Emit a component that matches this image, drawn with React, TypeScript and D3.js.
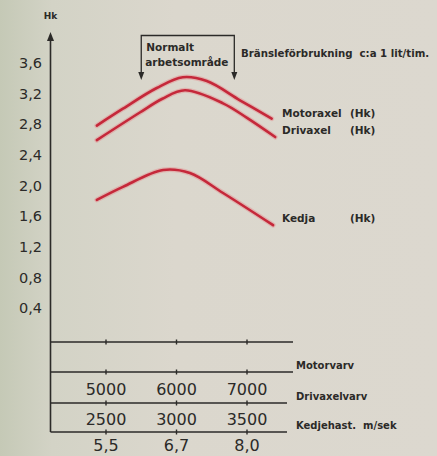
import React, { useRef, useEffect } from 'react';
import * as d3 from 'd3';

// curve values: [motor rpm, Hk]
const motoraxel: [number, number][] = [
  [4870, 2.78], [5240, 3.0], [5720, 3.27], [6090, 3.41], [6430, 3.36], [6900, 3.11], [7350, 2.87],
];
const drivaxel: [number, number][] = [
  [4870, 2.59], [5480, 2.95], [5800, 3.13], [6120, 3.24], [6660, 3.07], [7000, 2.88], [7400, 2.63],
];
const kedja: [number, number][] = [
  [4870, 1.81], [5240, 1.98], [5810, 2.2], [6190, 2.16], [6660, 1.9], [7370, 1.48],
];

const hkTicks = [0.4, 0.8, 1.2, 1.6, 2.0, 2.4, 2.8, 3.2, 3.6];
const motorTicks = [5000, 6000, 7000];
const driveLabels = ['2500', '3000', '3500'];
const chainLabels = ['5,5', '6,7', '8,0'];
const normalRange = [5500, 6820];

const seriesLabels = [
  { name: 'Motoraxel', unit: '(Hk)', data: motoraxel },
  { name: 'Drivaxel', unit: '(Hk)', data: drivaxel },
  { name: 'Kedja', unit: '(Hk)', data: kedja },
];

const W = 437;
const H = 456;
const FONT = '"DejaVu Sans", "Open Sans", sans-serif';
const INK = '#2b2a28';

const App = () => {
  const svgRef = useRef<SVGSVGElement>(null);

  useEffect(() => {
    if (!svgRef.current) return;
    const svg = d3.select(svgRef.current);
    svg.selectAll('*').remove();

    const x = d3.scaleLinear().domain([5000, 7000]).range([106, 247]);
    const y = d3.scaleLinear().domain([0, 3.6]).range([338.6, 62.7]);
    const axisX = 50.5;

    // paper background
    const defs = svg.append('defs');
    const grad = defs.append('linearGradient').attr('id', 'paper').attr('x1', 0).attr('x2', 1);
    grad.append('stop').attr('offset', '0%').attr('stop-color', '#c5c9b6');
    grad.append('stop').attr('offset', '12%').attr('stop-color', '#d3d3c6');
    grad.append('stop').attr('offset', '40%').attr('stop-color', '#dbd7cd');
    grad.append('stop').attr('offset', '100%').attr('stop-color', '#dcd8cf');
    svg.append('rect').attr('width', W).attr('height', H).attr('fill', 'url(#paper)');

    // y axis with arrow
    svg.append('line')
      .attr('x1', axisX).attr('x2', axisX).attr('y1', 38).attr('y2', 432)
      .attr('stroke', INK).attr('stroke-width', 1.6);
    svg.append('path')
      .attr('d', `M${axisX},32 L${axisX - 3.5},41 L${axisX + 3.5},41 Z`)
      .attr('fill', INK);
    svg.append('text')
      .attr('x', axisX).attr('y', 19)
      .attr('text-anchor', 'middle')
      .attr('font-family', FONT).attr('font-size', 9).attr('font-weight', 'bold')
      .attr('fill', INK).text('Hk');

    svg.append('g').selectAll('text').data(hkTicks).enter().append('text')
      .attr('x', 42).attr('y', d => y(d))
      .attr('dy', '0.36em')
      .attr('text-anchor', 'end')
      .attr('font-family', FONT).attr('font-size', 14.5)
      .attr('fill', INK)
      .text(d => d3.format('.1f')(d).replace('.', ','));

    // horizontal scale lines at the bottom
    const scaleLines = [
      { y: 342, x2: 293, label: '' },
      { y: 372, x2: 293, label: 'Motorvarv' },
      { y: 403, x2: 287, label: 'Drivaxelvarv' },
      { y: 432, x2: 287, label: 'Kedjehast.  m/sek' },
    ];
    scaleLines.forEach(l => {
      svg.append('line')
        .attr('x1', axisX).attr('x2', l.x2).attr('y1', l.y).attr('y2', l.y)
        .attr('stroke', INK).attr('stroke-width', 1.4);
      motorTicks.forEach(t => {
        svg.append('line')
          .attr('x1', x(t)).attr('x2', x(t)).attr('y1', l.y - 2.5).attr('y2', l.y + 2.5)
          .attr('stroke', INK).attr('stroke-width', 1.4);
      });
      if (l.label) {
        svg.append('text')
          .attr('x', 296).attr('y', l.y - 3)
          .attr('font-family', FONT).attr('font-size', 10).attr('font-weight', 'bold')
          .attr('fill', INK).attr('xml:space', 'preserve')
          .text(l.label);
      }
    });

    const numRows = [
      { labels: motorTicks.map(String), y: 395 },
      { labels: driveLabels, y: 425 },
      { labels: chainLabels, y: 451 },
    ];
    numRows.forEach(r => {
      svg.append('g').selectAll('text').data(r.labels).enter().append('text')
        .attr('x', (_, i) => x(motorTicks[i]))
        .attr('y', r.y)
        .attr('text-anchor', 'middle')
        .attr('font-family', FONT).attr('font-size', 16)
        .attr('fill', INK)
        .text(d => d);
    });

    // normal working range bracket
    const bx1 = x(normalRange[0]);
    const bx2 = x(normalRange[1]);
    svg.append('path')
      .attr('d', `M${bx1},74 L${bx1},35.5 L${bx2},35.5 L${bx2},74`)
      .attr('fill', 'none').attr('stroke', INK).attr('stroke-width', 1.3);
    [bx1, bx2].forEach(bx => {
      svg.append('path')
        .attr('d', `M${bx},80 L${bx - 3},72 L${bx + 3},72 Z`)
        .attr('fill', INK);
    });
    svg.append('text')
      .attr('x', bx1 + 5).attr('y', 51)
      .attr('font-family', FONT).attr('font-size', 10.5).attr('font-weight', 'bold')
      .attr('fill', INK).text('Normalt');
    svg.append('text')
      .attr('x', bx1 + 4).attr('y', 66)
      .attr('font-family', FONT).attr('font-size', 10.5).attr('font-weight', 'bold')
      .attr('fill', INK).text('arbetsområde');
    svg.append('text')
      .attr('x', 241).attr('y', 57)
      .attr('font-family', FONT).attr('font-size', 10.2).attr('font-weight', 'bold')
      .attr('fill', INK).attr('xml:space', 'preserve')
      .text('Bränsleförbrukning  c:a 1 lit/tim.');

    // curves
    const line = d3.line<[number, number]>()
      .x(d => x(d[0]))
      .y(d => y(d[1]))
      .curve(d3.curveCatmullRom.alpha(0.5));

    seriesLabels.forEach(s => {
      svg.append('path')
        .attr('d', line(s.data))
        .attr('fill', 'none').attr('stroke', '#e58a8c').attr('stroke-width', 5)
        .attr('stroke-opacity', 0.45).attr('stroke-linecap', 'round');
      svg.append('path')
        .attr('d', line(s.data))
        .attr('fill', 'none').attr('stroke', '#c5283a').attr('stroke-width', 2.6)
        .attr('stroke-linecap', 'round');
    });

    // series labels
    const labelY = [117, 134, 222];
    seriesLabels.forEach((s, i) => {
      svg.append('text')
        .attr('x', 282).attr('y', labelY[i])
        .attr('font-family', FONT).attr('font-size', 10.5).attr('font-weight', 'bold')
        .attr('fill', INK).text(s.name);
      svg.append('text')
        .attr('x', 350).attr('y', labelY[i])
        .attr('font-family', FONT).attr('font-size', 10.5).attr('font-weight', 'bold')
        .attr('fill', INK).text(s.unit);
    });
  }, []);

  return (
    <svg
      ref={svgRef}
      width={W}
      height={H}
      style={{ position: 'absolute', left: 0, top: 0, display: 'block' }}
    />
  );
};

export default App;
